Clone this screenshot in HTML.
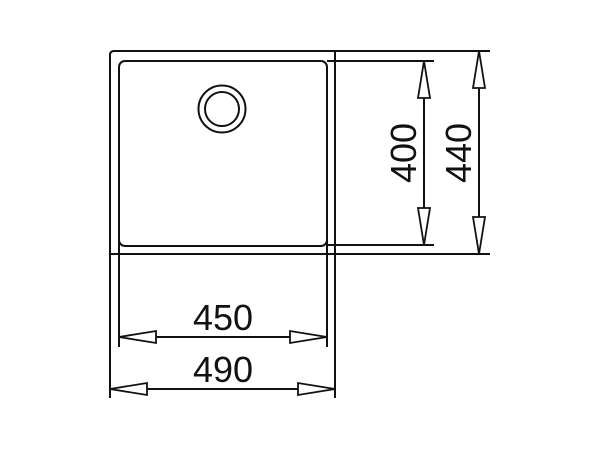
<html><body style="margin:0;background:#fff">
<svg width="600" height="450" xmlns="http://www.w3.org/2000/svg" style="display:block">
<g fill="none" stroke="#111" stroke-width="2">
<path d="M110 398 V55 Q110 51 114 51 H490"/>
<path d="M335 51 V398"/>
<path d="M110 254 H490"/>
<rect x="119" y="61" width="208" height="185" rx="6"/>
<path d="M119 240 V347 M327 240 V347"/>
<path d="M327 61 H434 M327 245 H434"/>
<circle cx="222" cy="109" r="23.5"/>
<circle cx="222" cy="109" r="17"/>
<path d="M119 337 H327"/>
<path d="M110 389 H335"/>
<path d="M424 61 V245"/>
<path d="M479 51 V254"/>
</g>
<g fill="#fff" stroke="#111" stroke-width="1.8">
<polygon points="119,337 156,331 156,343"/>
<polygon points="327,337 290,331 290,343"/>
<polygon points="110,389 147,383 147,395"/>
<polygon points="335,389 298,383 298,395"/>
<polygon points="424,61 418,98 430,98"/>
<polygon points="424,245 418,208 430,208"/>
<polygon points="479,51 473,88 485,88"/>
<polygon points="479,254 473,217 485,217"/>
</g>
<g font-family="Liberation Sans, sans-serif" font-size="36" fill="#111" text-anchor="middle">
<text x="223" y="330">450</text>
<text x="223" y="382">490</text>
<text transform="translate(416,153) rotate(-90)">400</text>
<text transform="translate(471,153) rotate(-90)">440</text>
</g>
</svg>
</body></html>
